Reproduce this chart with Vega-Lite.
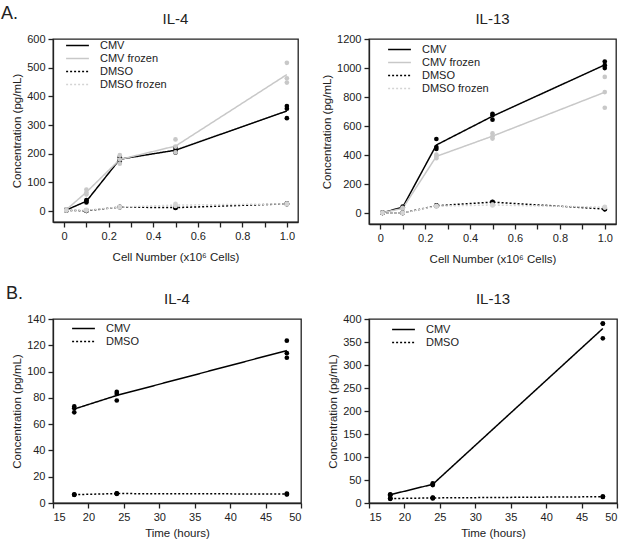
{
  "$schema": "https://vega.github.io/schema/vega-lite/v6.json",
  "padding": {"left": 1, "top": 5, "right": 2, "bottom": 2},
  "background": "#ffffff",
  "config": {
    "font": "Liberation Sans",
    "view": {"stroke": "#222", "strokeWidth": 1.3},
    "axis": {"grid": false, "domainColor": "#222", "domainWidth": 1.3, "tickColor": "#222", "tickWidth": 1.3, "tickSize": 5, "tickCount": 30, "labelFontSize": 11, "labelColor": "#222", "labelPadding": 3, "labelOverlap": false, "titleFontSize": 11.5, "titleFontWeight": "normal", "titleColor": "#222"},
    "title": {"fontSize": 15, "fontWeight": "normal", "color": "#222", "offset": 6},
    "legend": {"labelFontSize": 11, "labelColor": "#222", "symbolType": "M-2,0H2", "symbolSize": 130, "symbolStrokeWidth": 1.5, "symbolFillColor": "transparent", "labelOffset": 16, "rowPadding": 1}
  },
  "datasets": {
    "a4": [
      {"x": 0.01, "y": 3, "g": "CMV"}, {"x": 0.01, "y": 5, "g": "CMV"}, {"x": 0.01, "y": 4, "g": "CMV"},
      {"x": 0.1, "y": 35, "g": "CMV"}, {"x": 0.1, "y": 30, "g": "CMV"}, {"x": 0.1, "y": 38, "g": "CMV"},
      {"x": 0.25, "y": 188, "g": "CMV"}, {"x": 0.25, "y": 180, "g": "CMV"}, {"x": 0.25, "y": 175, "g": "CMV"},
      {"x": 0.5, "y": 221, "g": "CMV"}, {"x": 0.5, "y": 212, "g": "CMV"}, {"x": 0.5, "y": 204, "g": "CMV"},
      {"x": 1.0, "y": 366, "g": "CMV"}, {"x": 1.0, "y": 357, "g": "CMV"}, {"x": 1.0, "y": 324, "g": "CMV"},
      {"x": 0.01, "y": 5, "g": "CMV frozen"}, {"x": 0.01, "y": 6, "g": "CMV frozen"}, {"x": 0.01, "y": 4, "g": "CMV frozen"},
      {"x": 0.1, "y": 75, "g": "CMV frozen"}, {"x": 0.1, "y": 65, "g": "CMV frozen"}, {"x": 0.1, "y": 58, "g": "CMV frozen"},
      {"x": 0.25, "y": 195, "g": "CMV frozen"}, {"x": 0.25, "y": 180, "g": "CMV frozen"}, {"x": 0.25, "y": 165, "g": "CMV frozen"},
      {"x": 0.5, "y": 250, "g": "CMV frozen"}, {"x": 0.5, "y": 225, "g": "CMV frozen"}, {"x": 0.5, "y": 205, "g": "CMV frozen"},
      {"x": 1.0, "y": 517, "g": "CMV frozen"}, {"x": 1.0, "y": 463, "g": "CMV frozen"}, {"x": 1.0, "y": 448, "g": "CMV frozen"},
      {"x": 0.01, "y": 2, "g": "DMSO"}, {"x": 0.01, "y": 3, "g": "DMSO"}, {"x": 0.01, "y": 2, "g": "DMSO"},
      {"x": 0.1, "y": 1, "g": "DMSO"}, {"x": 0.1, "y": 2, "g": "DMSO"}, {"x": 0.1, "y": 1, "g": "DMSO"},
      {"x": 0.25, "y": 15, "g": "DMSO"}, {"x": 0.25, "y": 14, "g": "DMSO"}, {"x": 0.25, "y": 13, "g": "DMSO"},
      {"x": 0.5, "y": 12, "g": "DMSO"}, {"x": 0.5, "y": 13, "g": "DMSO"}, {"x": 0.5, "y": 11, "g": "DMSO"},
      {"x": 1.0, "y": 25, "g": "DMSO"}, {"x": 1.0, "y": 27, "g": "DMSO"}, {"x": 1.0, "y": 24, "g": "DMSO"},
      {"x": 0.01, "y": 2, "g": "DMSO frozen"}, {"x": 0.01, "y": 3, "g": "DMSO frozen"}, {"x": 0.01, "y": 3, "g": "DMSO frozen"},
      {"x": 0.1, "y": 3, "g": "DMSO frozen"}, {"x": 0.1, "y": 2, "g": "DMSO frozen"}, {"x": 0.1, "y": 4, "g": "DMSO frozen"},
      {"x": 0.25, "y": 14, "g": "DMSO frozen"}, {"x": 0.25, "y": 13, "g": "DMSO frozen"}, {"x": 0.25, "y": 15, "g": "DMSO frozen"},
      {"x": 0.5, "y": 25, "g": "DMSO frozen"}, {"x": 0.5, "y": 18, "g": "DMSO frozen"}, {"x": 0.5, "y": 20, "g": "DMSO frozen"},
      {"x": 1.0, "y": 25, "g": "DMSO frozen"}, {"x": 1.0, "y": 24, "g": "DMSO frozen"}, {"x": 1.0, "y": 26, "g": "DMSO frozen"}
    ],
    "a13": [
      {"x": 0.01, "y": 5, "g": "CMV"}, {"x": 0.01, "y": 6, "g": "CMV"}, {"x": 0.01, "y": 4, "g": "CMV"},
      {"x": 0.1, "y": 46, "g": "CMV"}, {"x": 0.1, "y": 42, "g": "CMV"}, {"x": 0.1, "y": 38, "g": "CMV"},
      {"x": 0.25, "y": 512, "g": "CMV"}, {"x": 0.25, "y": 457, "g": "CMV"}, {"x": 0.25, "y": 443, "g": "CMV"},
      {"x": 0.5, "y": 685, "g": "CMV"}, {"x": 0.5, "y": 676, "g": "CMV"}, {"x": 0.5, "y": 645, "g": "CMV"},
      {"x": 1.0, "y": 1045, "g": "CMV"}, {"x": 1.0, "y": 1020, "g": "CMV"}, {"x": 1.0, "y": 1000, "g": "CMV"},
      {"x": 0.01, "y": 5, "g": "CMV frozen"}, {"x": 0.01, "y": 4, "g": "CMV frozen"}, {"x": 0.01, "y": 6, "g": "CMV frozen"},
      {"x": 0.1, "y": 35, "g": "CMV frozen"}, {"x": 0.1, "y": 30, "g": "CMV frozen"}, {"x": 0.1, "y": 38, "g": "CMV frozen"},
      {"x": 0.25, "y": 405, "g": "CMV frozen"}, {"x": 0.25, "y": 392, "g": "CMV frozen"}, {"x": 0.25, "y": 380, "g": "CMV frozen"},
      {"x": 0.5, "y": 550, "g": "CMV frozen"}, {"x": 0.5, "y": 530, "g": "CMV frozen"}, {"x": 0.5, "y": 515, "g": "CMV frozen"},
      {"x": 1.0, "y": 939, "g": "CMV frozen"}, {"x": 1.0, "y": 835, "g": "CMV frozen"}, {"x": 1.0, "y": 727, "g": "CMV frozen"},
      {"x": 0.01, "y": 3, "g": "DMSO"}, {"x": 0.01, "y": 4, "g": "DMSO"}, {"x": 0.01, "y": 3, "g": "DMSO"},
      {"x": 0.1, "y": 3, "g": "DMSO"}, {"x": 0.1, "y": 2, "g": "DMSO"}, {"x": 0.1, "y": 4, "g": "DMSO"},
      {"x": 0.25, "y": 53, "g": "DMSO"}, {"x": 0.25, "y": 50, "g": "DMSO"}, {"x": 0.25, "y": 55, "g": "DMSO"},
      {"x": 0.5, "y": 80, "g": "DMSO"}, {"x": 0.5, "y": 78, "g": "DMSO"}, {"x": 0.5, "y": 75, "g": "DMSO"},
      {"x": 1.0, "y": 30, "g": "DMSO"}, {"x": 1.0, "y": 32, "g": "DMSO"}, {"x": 1.0, "y": 28, "g": "DMSO"},
      {"x": 0.01, "y": 3, "g": "DMSO frozen"}, {"x": 0.01, "y": 3, "g": "DMSO frozen"}, {"x": 0.01, "y": 4, "g": "DMSO frozen"},
      {"x": 0.1, "y": 3, "g": "DMSO frozen"}, {"x": 0.1, "y": 4, "g": "DMSO frozen"}, {"x": 0.1, "y": 2, "g": "DMSO frozen"},
      {"x": 0.25, "y": 50, "g": "DMSO frozen"}, {"x": 0.25, "y": 48, "g": "DMSO frozen"}, {"x": 0.25, "y": 52, "g": "DMSO frozen"},
      {"x": 0.5, "y": 60, "g": "DMSO frozen"}, {"x": 0.5, "y": 55, "g": "DMSO frozen"}, {"x": 0.5, "y": 58, "g": "DMSO frozen"},
      {"x": 1.0, "y": 45, "g": "DMSO frozen"}, {"x": 1.0, "y": 40, "g": "DMSO frozen"}, {"x": 1.0, "y": 42, "g": "DMSO frozen"}
    ],
    "b4": [
      {"x": 18, "y": 73.5, "g": "CMV"}, {"x": 18, "y": 72, "g": "CMV"}, {"x": 18, "y": 69, "g": "CMV"},
      {"x": 24, "y": 84.5, "g": "CMV"}, {"x": 24, "y": 83, "g": "CMV"}, {"x": 24, "y": 78, "g": "CMV"},
      {"x": 48, "y": 123.5, "g": "CMV"}, {"x": 48, "y": 114, "g": "CMV"}, {"x": 48, "y": 110.5, "g": "CMV"},
      {"x": 18, "y": 6.3, "g": "DMSO"}, {"x": 18, "y": 6.5, "g": "DMSO"}, {"x": 18, "y": 6.2, "g": "DMSO"},
      {"x": 24, "y": 7.3, "g": "DMSO"}, {"x": 24, "y": 7, "g": "DMSO"}, {"x": 24, "y": 7.2, "g": "DMSO"},
      {"x": 48, "y": 7.2, "g": "DMSO"}, {"x": 48, "y": 6.5, "g": "DMSO"}, {"x": 48, "y": 6.8, "g": "DMSO"}
    ],
    "b13": [
      {"x": 18, "y": 19, "g": "CMV"}, {"x": 18, "y": 17, "g": "CMV"}, {"x": 18, "y": 18, "g": "CMV"},
      {"x": 24, "y": 43, "g": "CMV"}, {"x": 24, "y": 40, "g": "CMV"}, {"x": 24, "y": 39, "g": "CMV"},
      {"x": 48, "y": 390, "g": "CMV"}, {"x": 48, "y": 390, "g": "CMV"}, {"x": 48, "y": 358, "g": "CMV"},
      {"x": 18, "y": 10, "g": "DMSO"}, {"x": 18, "y": 9, "g": "DMSO"}, {"x": 18, "y": 10, "g": "DMSO"},
      {"x": 24, "y": 11, "g": "DMSO"}, {"x": 24, "y": 12, "g": "DMSO"}, {"x": 24, "y": 10, "g": "DMSO"},
      {"x": 48, "y": 14, "g": "DMSO"}, {"x": 48, "y": 13, "g": "DMSO"}, {"x": 48, "y": 14, "g": "DMSO"}
    ]
  },
  "vconcat": [
    {
      "title": {"text": "A.", "anchor": "start", "frame": "group", "fontSize": 18, "dx": -52, "dy": 12, "offset": 0},
      "bounds": "flush",
      "spacing": 71,
      "hconcat": [
        {
          "width": 245, "height": 183,
          "title": "IL-4",
          "data": {"name": "a4"},
          "layer": [
            {
              "mark": {"type": "line", "strokeWidth": 1.5},
              "encoding": {
                "x": {"field": "x", "type": "quantitative", "scale": {"domain": [-0.05, 1.05], "nice": false, "zero": false},
                      "axis": {"title": "Cell Number (x10⁶ Cells)", "titlePadding": 10, "tickCount": 30, "labelOverlap": false, "values": [0, 0.1, 0.2, 0.3, 0.4, 0.5, 0.6, 0.7, 0.8, 0.9, 1.0], "labelExpr": "datum.value == 0 ? '0' : (round(datum.value*10) % 2 == 0 ? format(datum.value, '.1f') : '')"}},
                "y": {"aggregate": "mean", "field": "y", "type": "quantitative", "scale": {"domain": [-38, 600], "nice": false, "zero": false},
                      "axis": {"title": "Concentration (pg/mL)", "format": "d", "tickCount": 30, "labelOverlap": false, "values": [0, 100, 200, 300, 400, 500, 600]}},
                "color": {"field": "g", "type": "nominal", "scale": {"domain": ["CMV", "CMV frozen", "DMSO", "DMSO frozen"], "range": ["#000000", "#c8c8c8", "#000000", "#d4d4d4"]},
                          "legend": {"orient": "none", "legendX": 18, "legendY": 0, "title": null}},
                "strokeDash": {"field": "g", "type": "nominal", "scale": {"domain": ["CMV", "CMV frozen", "DMSO", "DMSO frozen"], "range": [[1, 0], [1, 0], [2, 2], [2, 2]]},
                               "legend": {"orient": "none", "legendX": 18, "legendY": 0, "title": null}}
              }
            },
            {
              "mark": {"type": "point", "filled": true, "size": 22, "opacity": 1},
              "encoding": {
                "x": {"field": "x", "type": "quantitative"},
                "y": {"field": "y", "type": "quantitative"},
                "color": {"field": "g", "type": "nominal", "legend": null}
              }
            }
          ]
        },
        {
          "width": 247, "height": 185,
          "title": "IL-13",
          "data": {"name": "a13"},
          "layer": [
            {
              "mark": {"type": "line", "strokeWidth": 1.5},
              "encoding": {
                "x": {"field": "x", "type": "quantitative", "scale": {"domain": [-0.05, 1.05], "nice": false, "zero": false},
                      "axis": {"title": "Cell Number (x10⁶ Cells)", "titlePadding": 10, "tickCount": 30, "labelOverlap": false, "values": [0, 0.1, 0.2, 0.3, 0.4, 0.5, 0.6, 0.7, 0.8, 0.9, 1.0], "labelExpr": "datum.value == 0 ? '0' : (round(datum.value*10) % 2 == 0 ? format(datum.value, '.1f') : '')"}},
                "y": {"aggregate": "mean", "field": "y", "type": "quantitative", "scale": {"domain": [-73, 1200], "nice": false, "zero": false},
                      "axis": {"title": "Concentration (pg/mL)", "format": "d", "tickCount": 30, "labelOverlap": false, "values": [0, 200, 400, 600, 800, 1000, 1200]}},
                "color": {"field": "g", "type": "nominal", "scale": {"domain": ["CMV", "CMV frozen", "DMSO", "DMSO frozen"], "range": ["#000000", "#c8c8c8", "#000000", "#d4d4d4"]},
                          "legend": {"orient": "none", "legendX": 24, "legendY": 4, "title": null}},
                "strokeDash": {"field": "g", "type": "nominal", "scale": {"domain": ["CMV", "CMV frozen", "DMSO", "DMSO frozen"], "range": [[1, 0], [1, 0], [2, 2], [2, 2]]},
                               "legend": {"orient": "none", "legendX": 24, "legendY": 4, "title": null}}
              }
            },
            {
              "mark": {"type": "point", "filled": true, "size": 22, "opacity": 1},
              "encoding": {
                "x": {"field": "x", "type": "quantitative"},
                "y": {"field": "y", "type": "quantitative"},
                "color": {"field": "g", "type": "nominal", "legend": null}
              }
            }
          ]
        }
      ],
      "resolve": {"scale": {"color": "independent", "strokeDash": "independent", "x": "independent", "y": "independent"}, "legend": {"color": "independent", "strokeDash": "independent"}}
    },
    {
      "title": {"text": "B.", "anchor": "start", "frame": "group", "fontSize": 18, "dx": -47, "dy": 12, "offset": 0},
      "bounds": "flush",
      "spacing": 68,
      "hconcat": [
        {
          "width": 248, "height": 184,
          "title": "IL-4",
          "data": {"name": "b4"},
          "layer": [
            {
              "mark": {"type": "line", "strokeWidth": 1.5},
              "encoding": {
                "x": {"field": "x", "type": "quantitative", "scale": {"domain": [15, 50], "nice": false, "zero": false},
                      "axis": {"title": "Time (hours)", "titlePadding": 5, "tickCount": 30, "labelOverlap": false, "values": [15, 20, 25, 30, 35, 40, 45, 50]}},
                "y": {"aggregate": "mean", "field": "y", "type": "quantitative", "scale": {"domain": [0, 140], "nice": false},
                      "axis": {"title": "Concentration (pg/mL)", "format": "d", "tickCount": 30, "labelOverlap": false, "values": [0, 20, 40, 60, 80, 100, 120, 140]}},
                "color": {"field": "g", "type": "nominal", "scale": {"domain": ["CMV", "DMSO"], "range": ["#000000", "#000000"]},
                          "legend": {"orient": "none", "legendX": 24, "legendY": 3, "title": null}},
                "strokeDash": {"field": "g", "type": "nominal", "scale": {"domain": ["CMV", "DMSO"], "range": [[1, 0], [2, 2]]},
                               "legend": {"orient": "none", "legendX": 24, "legendY": 3, "title": null}}
              }
            },
            {
              "mark": {"type": "point", "filled": true, "size": 22, "opacity": 1},
              "encoding": {
                "x": {"field": "x", "type": "quantitative"},
                "y": {"field": "y", "type": "quantitative"},
                "color": {"field": "g", "type": "nominal", "legend": null}
              }
            }
          ]
        },
        {
          "width": 248, "height": 184,
          "title": "IL-13",
          "data": {"name": "b13"},
          "layer": [
            {
              "mark": {"type": "line", "strokeWidth": 1.5},
              "encoding": {
                "x": {"field": "x", "type": "quantitative", "scale": {"domain": [15, 50], "nice": false, "zero": false},
                      "axis": {"title": "Time (hours)", "titlePadding": 5, "tickCount": 30, "labelOverlap": false, "values": [15, 20, 25, 30, 35, 40, 45, 50]}},
                "y": {"aggregate": "mean", "field": "y", "type": "quantitative", "scale": {"domain": [0, 400], "nice": false},
                      "axis": {"title": "Concentration (pg/mL)", "format": "d", "tickCount": 30, "labelOverlap": false, "values": [0, 50, 100, 150, 200, 250, 300, 350, 400]}},
                "color": {"field": "g", "type": "nominal", "scale": {"domain": ["CMV", "DMSO"], "range": ["#000000", "#000000"]},
                          "legend": {"orient": "none", "legendX": 28, "legendY": 4, "title": null}},
                "strokeDash": {"field": "g", "type": "nominal", "scale": {"domain": ["CMV", "DMSO"], "range": [[1, 0], [2, 2]]},
                               "legend": {"orient": "none", "legendX": 28, "legendY": 4, "title": null}}
              }
            },
            {
              "mark": {"type": "point", "filled": true, "size": 22, "opacity": 1},
              "encoding": {
                "x": {"field": "x", "type": "quantitative"},
                "y": {"field": "y", "type": "quantitative"},
                "color": {"field": "g", "type": "nominal", "legend": null}
              }
            }
          ]
        }
      ],
      "resolve": {"scale": {"color": "independent", "strokeDash": "independent", "x": "independent", "y": "independent"}, "legend": {"color": "independent", "strokeDash": "independent"}}
    }
  ],
  "spacing": 19,
  "resolve": {"scale": {"color": "independent", "strokeDash": "independent", "x": "independent", "y": "independent"}, "legend": {"color": "independent", "strokeDash": "independent"}}
}
